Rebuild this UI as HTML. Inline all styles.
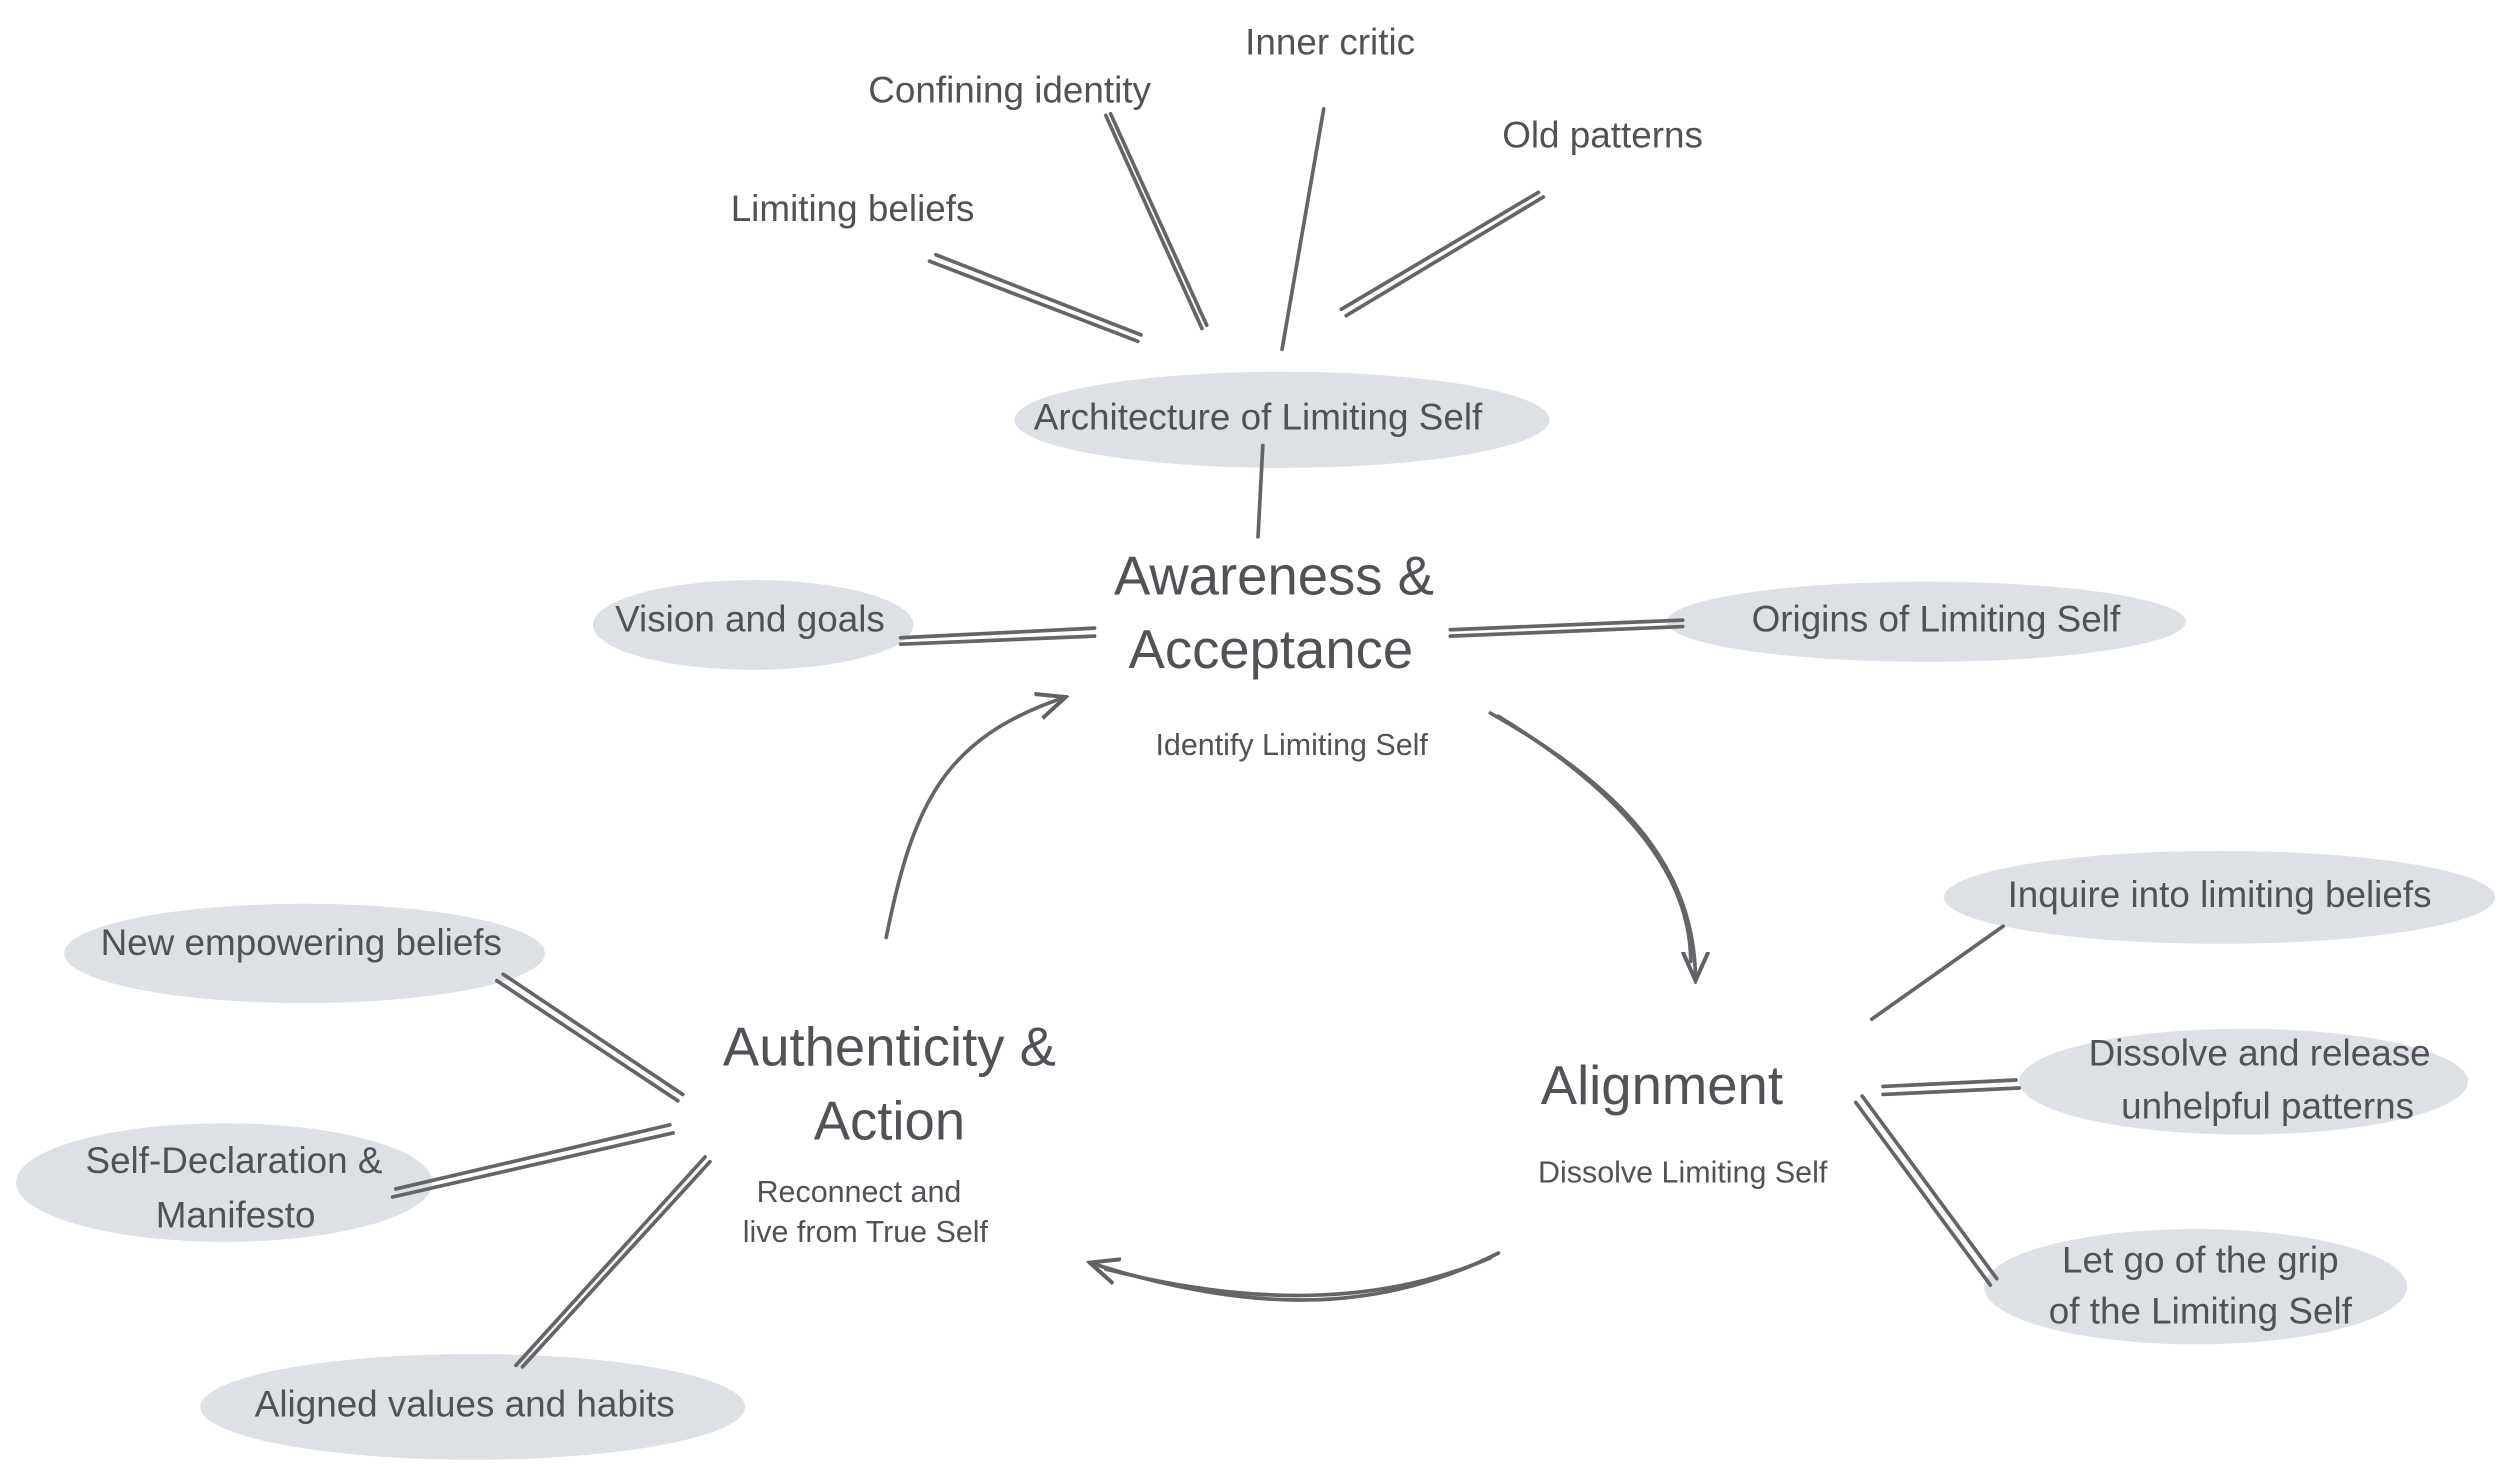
<!DOCTYPE html>
<html><head><meta charset="utf-8"><style>
html,body{margin:0;padding:0;background:#fff;}
svg{display:block;}
text{font-family:"Liberation Sans",sans-serif;fill:#505257;text-anchor:middle;dominant-baseline:middle;}
</style></head><body>
<svg width="2500" height="1471" viewBox="0 0 1560 918" preserveAspectRatio="none" xmlns="http://www.w3.org/2000/svg">
<defs>
<marker id="ah" viewBox="0 0 20 20" refX="18" refY="10" markerWidth="20" markerHeight="20" markerUnits="userSpaceOnUse" orient="auto">
<path d="M0,2 L18,10 L0,18" fill="none" stroke="#5f6166" stroke-width="2.5"/>
</marker>
</defs>
<g fill="#dde0e5">
<ellipse cx="800" cy="262" rx="167" ry="30"/>
<ellipse cx="470" cy="390" rx="100" ry="28"/>
<ellipse cx="1202" cy="388" rx="162" ry="25"/>
<ellipse cx="1385" cy="560" rx="172" ry="29"/>
<ellipse cx="1400" cy="675" rx="140" ry="33"/>
<ellipse cx="1370" cy="803" rx="132" ry="36"/>
<ellipse cx="190" cy="595" rx="150" ry="31"/>
<ellipse cx="140" cy="738" rx="130" ry="37"/>
<ellipse cx="295" cy="878" rx="170" ry="33"/>
</g>
<g stroke="#636569" stroke-width="2.3" fill="none" stroke-linecap="round">
<path d="M580,163 L710,213 M584,159 L712,209"/>
<path d="M690,72 L750,205 M693,71 L753,203"/>
<path d="M826,68 L800,218"/>
<path d="M963,123 L840,197 M960,120 L837,193"/>
<path d="M788,278 L785,335"/>
<path d="M562,402 L683,397 M562,398 L683,392"/>
<path d="M905,397 L1050,391 M905,393 L1050,387"/>
<path d="M1168,636 L1250,578"/>
<path d="M1175,683 L1260,679 M1175,678 L1258,674"/>
<path d="M1158,688 L1242,802 M1162,684 L1246,798"/>
<path d="M310,612 L423,687 M314,608 L426,683"/>
<path d="M245,747 L420,707 M247,742 L418,702"/>
<path d="M322,852 L440,722 M326,853 L443,725"/>
<path d="M930,445 C1010,490 1058,540 1058,612" marker-end="url(#ah)"/>
<path d="M935,447 C1012,494 1055,545 1055,600"/>
<path d="M935,782 C860,820 780,820 680,788" marker-end="url(#ah)"/>
<path d="M930,785 C860,815 780,815 690,792"/>
<path d="M553,585 C570,500 590,460 665,435" marker-end="url(#ah)"/>
</g>
<g font-size="23">
<text x="830" y="28">Inner critic</text>
<text x="630" y="58">Confining identity</text>
<text x="1000" y="86">Old patterns</text>
<text x="532" y="132">Limiting beliefs</text>
<text x="785" y="262">Architecture of Limiting Self</text>
<text x="468" y="388">Vision and goals</text>
<text x="1208" y="388">Origins of Limiting Self</text>
<text x="1385" y="560">Inquire into limiting beliefs</text>
<text x="1410" y="659">Dissolve and release</text>
<text x="1415" y="692">unhelpful patterns</text>
<text x="1373" y="788">Let go of the grip</text>
<text x="1373" y="820">of the Limiting Self</text>
<text x="188" y="590">New empowering beliefs</text>
<text x="146" y="726">Self-Declaration &amp;</text>
<text x="147" y="760">Manifesto</text>
<text x="290" y="878">Aligned values and habits</text>
</g>
<g font-size="34" style="fill:#3f4145">
<text x="795" y="362">Awareness &amp;</text>
<text x="793" y="408">Acceptance</text>
<text x="1037" y="680">Alignment</text>
<text x="555" y="656">Authenticity &amp;</text>
<text x="555" y="702">Action</text>
</g>
<g font-size="19">
<text x="806" y="466">Identify Limiting Self</text>
<text x="1050" y="733">Dissolve Limiting Self</text>
<text x="536" y="745">Reconnect and</text>
<text x="540" y="770">live from True Self</text>
</g>
</svg>
</body></html>
